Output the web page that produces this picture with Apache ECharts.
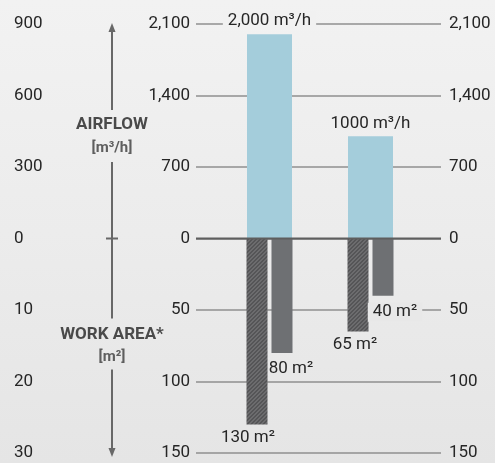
<!DOCTYPE html>
<html><head><meta charset="utf-8">
<script src="https://cdn.jsdelivr.net/npm/echarts@6/dist/echarts.min.js"></script>
<style>html,body{margin:0;padding:0;background:#ececec}#c{width:495px;height:463px}</style>
</head><body><div id="c"></div>
<script>
// ---- data ----
const categories = ['Unit A', 'Unit B'];
const airflow = [2000, 1000];              // m³/h
const airflowLabels = ['2,000 m³/h', '1000 m³/h'];
const workAreaHatched = [130, 65];         // m²
const workAreaSolid = [80, 40];            // m²
const airTicks = [0, 700, 1400, 2100];     // m³/h (inner axes, upper half)
const areaTicks = [0, 50, 100, 150];       // m²   (inner axes, lower half)
const outerAirTicks = [0, 300, 600, 900];  // outer left scale, upper half
const outerAreaTicks = [0, 10, 20, 30];    // outer left scale, lower half

const STEP = airTicks[1];
const MAX = airTicks[airTicks.length - 1];
const SCALE = STEP / areaTicks[1];         // 14 : converts m² onto the shared axis

const FONT = 'Roboto';
const TXT = '#262626';
const GRID_C = '#8f8f8f';
const gridLeft = 196, gridRight = 54, gridTop = 24, gridBottom = 10;

function innerFmt(v) {
  if (v >= 0) return airTicks[Math.round(v / STEP)].toLocaleString('en-US');
  return String(areaTicks[Math.round(-v / STEP)]);
}
function outerFmt(v) {
  if (v >= 0) return String(outerAirTicks[Math.round(v / STEP)]);
  return String(outerAreaTicks[Math.round(-v / STEP)]);
}

// hatch pattern
const pat = document.createElement('canvas');
pat.width = 8; pat.height = 8;
(function () {
  const ctx = pat.getContext('2d');
  const img = ctx.createImageData(8, 8);
  for (let y = 0; y < 8; y++) for (let x = 0; x < 8; x++) {
    const light = ((x + y) % 4) < 2;
    const c = light ? 0x6c : 0x55;
    const i = (y * 8 + x) * 4;
    img.data[i] = c; img.data[i + 1] = c; img.data[i + 2] = c + 2; img.data[i + 3] = 255;
  }
  ctx.putImageData(img, 0, 0);
})();

const labelBase = { fontFamily: FONT, fontSize: 17, color: TXT };
const hatchedOffsets = [[-9, 0], [-3, 0]];
const solidOffsets = [[9, 0], [12, 0]];
const solidBg = [null, '#e8e8e8'];

const chart = echarts.init(document.getElementById('c'));
chart.setOption({
  animation: false,
  backgroundColor: {
    type: 'linear', x: 0, y: 0, x2: 0, y2: 1,
    colorStops: [{ offset: 0, color: '#f2f2f2' }, { offset: 0.5, color: '#ececec' }, { offset: 1, color: '#e5e5e5' }]
  },
  grid: [
    { left: gridLeft, right: gridRight, top: gridTop, bottom: gridBottom, outerBoundsMode: 'none' },
    { left: 219, right: 74, top: gridTop, bottom: gridBottom, outerBoundsMode: 'none' }
  ],
  xAxis: [
    { type: 'value', gridIndex: 0, show: false, min: 0, max: 1 },
    { type: 'category', gridIndex: 1, show: false, data: categories },
    { type: 'category', gridIndex: 1, show: false, data: categories }
  ],
  yAxis: [
    { type: 'value', gridIndex: 0, position: 'left', min: -MAX, max: MAX, interval: STEP,
      axisLine: { show: false }, axisTick: { show: false },
      axisLabel: { formatter: innerFmt, margin: 6, fontFamily: FONT, fontSize: 17, color: TXT },
      splitLine: { show: true, lineStyle: { color: GRID_C, width: 1.5 } } },
    { type: 'value', gridIndex: 0, position: 'right', min: -MAX, max: MAX, interval: STEP,
      axisLine: { show: false }, axisTick: { show: false },
      axisLabel: { formatter: innerFmt, margin: 8, fontFamily: FONT, fontSize: 17, color: TXT },
      splitLine: { show: false } },
    { type: 'value', gridIndex: 0, position: 'left', min: -MAX, max: MAX, interval: STEP,
      axisLine: { show: false }, axisTick: { show: false },
      axisLabel: { formatter: outerFmt, margin: 182, align: 'left', fontFamily: FONT, fontSize: 17, color: TXT },
      splitLine: { show: false } },
    { type: 'value', gridIndex: 1, show: false, min: -MAX, max: MAX, interval: STEP }
  ],
  series: [
    { type: 'bar', xAxisIndex: 1, yAxisIndex: 3, barWidth: 45,
      itemStyle: { color: '#a4cddb' },
      data: airflow.map((v, i) => ({
        value: v,
        label: i === 0 ? { backgroundColor: '#f1f1f1', padding: [1, 5] } : {}
      })),
      label: Object.assign({ show: true, position: 'top', distance: 4,
        formatter: p => airflowLabels[p.dataIndex] }, labelBase) },
    { type: 'bar', xAxisIndex: 2, yAxisIndex: 3, barWidth: 21, barGap: '19%',
      itemStyle: { color: { image: pat, repeat: 'repeat' } },
      data: workAreaHatched.map((v, i) => ({ value: -v * SCALE, label: { offset: hatchedOffsets[i] } })),
      label: Object.assign({ show: true, position: 'bottom', distance: 5,
        formatter: p => workAreaHatched[p.dataIndex] + ' m²' }, labelBase) },
    { type: 'bar', xAxisIndex: 2, yAxisIndex: 3, barWidth: 21, barGap: '19%',
      itemStyle: { color: '#6e7073' },
      data: workAreaSolid.map((v, i) => ({ value: -v * SCALE,
        label: Object.assign({ offset: solidOffsets[i] }, solidBg[i] ? { backgroundColor: solidBg[i], padding: [1, 5] } : {}) })),
      label: Object.assign({ show: true, position: 'bottom', distance: 7,
        formatter: p => workAreaSolid[p.dataIndex] + ' m²' }, labelBase) }
  ]
});

// decorations: central double arrow, zero line and titles, positioned from the axis scale
const py = v => chart.convertToPixel({ yAxisIndex: 0 }, v);
const x0 = chart.convertToPixel({ xAxisIndex: 0 }, 0);
const x1 = chart.convertToPixel({ xAxisIndex: 0 }, 1);
const ax = gridLeft - 84;
const y0 = py(0), yTop = py(MAX), yBot = py(-MAX);
const ARW = '#686868';
const seg = (ya, yb) => ({ type: 'line', z: 10, shape: { x1: ax, y1: ya, x2: ax, y2: yb }, style: { stroke: ARW, lineWidth: 2 } });
const txt = (t, y, size, color) => ({ type: 'text', z: 10, x: ax, y: y,
  style: { text: t, fontFamily: FONT, fontWeight: 'bold', fontSize: size, fill: color, align: 'center', verticalAlign: 'middle' } });
chart.setOption({
  graphic: [
    { type: 'line', z: 10, shape: { x1: x0, y1: y0, x2: x1, y2: y0 }, style: { stroke: '#5e5e5e', lineWidth: 2 } },
    seg(yTop + 4, yTop + 86),
    seg(yTop + 138, y0 + 80),
    seg(y0 + 131, yBot),
    { type: 'line', z: 10, shape: { x1: ax - 6, y1: y0, x2: ax + 6, y2: y0 }, style: { stroke: ARW, lineWidth: 2 } },
    { type: 'polygon', z: 10, shape: { points: [[ax, yTop - 1], [ax - 3.5, yTop + 8], [ax + 3.5, yTop + 8]] }, style: { fill: ARW } },
    { type: 'polygon', z: 10, shape: { points: [[ax, yBot + 4], [ax - 3.5, yBot - 5], [ax + 3.5, yBot - 5]] }, style: { fill: ARW } },
    txt('AIRFLOW', yTop + 101, 17, '#4a4a4a'),
    txt('[m³/h]', yTop + 124, 15, '#5e5e5e'),
    txt('WORK AREA*', y0 + 96, 17, '#4a4a4a'),
    txt('[m²]', y0 + 119, 15, '#5e5e5e')
  ]
});
</script></body></html>
